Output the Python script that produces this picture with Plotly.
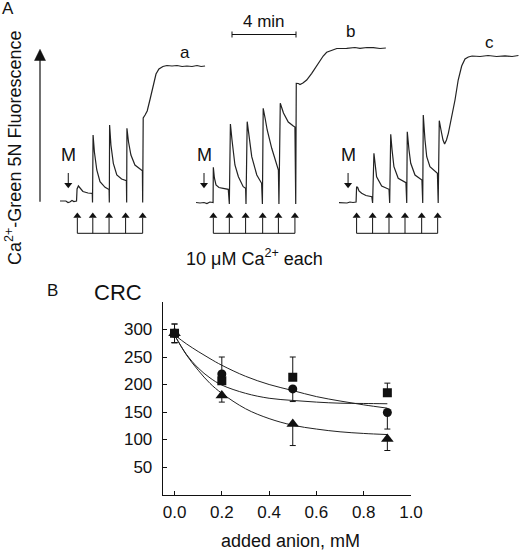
import plotly.graph_objects as go

# ---------------- Panel A: Ca2+-Green 5N fluorescence traces ----------------
# time in s (from start of each record), fluorescence in arbitrary units
trace_a_t = [0, 15, 22, 30, 37, 45, 52, 62, 64, 69, 75, 86, 105, 121,
             122, 124, 129, 138, 150, 169, 184,
             185, 186, 191, 200, 213, 231, 249,
             250, 251, 257, 266, 281, 300, 309,
             310, 312, 319, 327, 338, 349, 360, 371, 386, 401, 420, 439, 458, 476, 495, 514, 529, 544]
trace_a_f = [2, 1.5, 2, 0.5, 1, 2.5, 1.5, 2, 14, 17, 15, 11.5, 10, 9.7,
             0.5, 68, 51, 33, 21.3, 15.7, 13.5,
             0.5, 78, 58, 39.7, 28, 24, 22.3,
             0.5, 74.7, 61, 48, 38, 33.7, 32.3,
             0.5, 85, 88, 92, 104, 118, 129, 134, 136.5, 137.5, 137, 137.5, 136.5, 137, 136.5, 137.5, 136.5, 137]

trace_b_t = [0, 15, 30, 41, 52, 64,
             65, 69, 75, 86, 102, 121,
             125, 129, 135, 146, 159, 177, 186,
             187.5, 192, 199, 209, 228, 246,
             249, 252, 259, 267, 284, 303, 309,
             311, 316, 328, 346, 365, 371,
             374, 376, 384, 390, 401, 415, 434, 453, 465, 477, 490, 509, 528, 565, 596, 615, 641, 665, 690, 712]
trace_b_f = [0.5, 0, 0.5, -0.5, 1, 0.5,
             35.7, 25, 18, 15.5, 14.7, 13.7,
             -1, 79, 63, 38, 26.3, 16.3, 14.7,
             -1, 81.3, 68, 46.3, 28, 19.7,
             -1, 94.7, 85, 73, 54.7, 36.3, 33,
             -1, 99.7, 90, 81, 77, 76,
             -1, 119.7, 119.5, 118.5, 120, 123, 129.7, 137.5, 141.5, 147, 150.7, 153, 154.5, 154.7, 155.5, 154.7, 155.5, 155.3, 154.5, 155]

trace_c_t = [0, 15, 30, 41, 52.5, 64,
             66, 70, 75, 85, 101, 123,
             126, 131, 137, 141, 160, 179, 187.5,
             190, 194, 199, 206, 222, 241, 251,
             254, 256, 262.5, 269, 285, 304, 311,
             314, 316, 322.5, 329, 341, 360, 369,
             372, 376, 382.5, 390, 396, 403, 410, 423, 435, 447, 460, 472.5, 485, 499, 529, 559, 591, 622.5, 649, 673]
trace_c_f = [0.3, 0.5, 0, 1, 0.5, 1,
             16.3, 15.5, 12, 9.7, 7.5, 6.3,
             0, 49.7, 38, 26.3, 17, 14.7, 13.7,
             0, 68.7, 53, 36.3, 24.7, 21.3, 20.3,
             0, 71.3, 53, 39.7, 28, 23.7, 23,
             0, 88, 63, 46.3, 36.3, 31.3, 29.7,
             0, 82.3, 73, 63, 59, 63, 69.7, 86.3, 103, 123, 137, 144, 146, 147, 146.5, 147.5, 146.5, 147.2, 146.5, 147.5]

# addition times (s): mitochondria (M) and 10 uM Ca2+ pulses
m_add = {"a": 31, "b": 30, "c": 34}
ca_add = {"a": [65, 123, 184, 246, 310],
          "b": [65, 125, 186, 250, 309, 371],
          "c": [66, 126, 187.5, 247.5, 310, 370]}
trace_labels = ["a", "b", "c"]

# ---------------- Panel B: CRC vs added anion ----------------
anion_mM = [0, 0.2, 0.5, 0.9]
crc_square = [293, 207, 213, 185]
crc_square_up = [17, 0, 37, 17.5]
crc_square_dn = [17, 0, 0, 0]
crc_circle = [293, 219, 192, 149]
crc_circle_up = [17, 31, 0, 0]
crc_circle_dn = [17, 0, 23, 30]
crc_triangle = [293, 180, 128, 101]
crc_triangle_up = [0, 0, 0, 0]
crc_triangle_dn = [17, 12, 39, 21]

fit_x = [0, 0.05, 0.1, 0.15, 0.2, 0.3, 0.4, 0.5, 0.6, 0.7, 0.8, 0.9]
fit_circle = [290, 274, 260, 247, 235, 215, 200, 189, 178, 170, 163, 157]
fit_square = [290, 255, 230, 212, 199, 184, 175, 171, 168, 166, 165.5, 165]
fit_triangle = [290, 254, 226, 202, 184, 156, 138, 126, 119, 114, 111, 109]

x_ticks = [0.0, 0.2, 0.4, 0.6, 0.8, 1.0]
y_ticks = [50, 100, 150, 200, 250, 300]

FONT = "Liberation Sans, Arial, sans-serif"
INK = "#111111"
W, H = 520, 551

fig = go.Figure()

# panel A traces, one time axis per record
axmap = {"a": "x2", "b": "x3", "c": "x4"}
for key, t, f in [("a", trace_a_t, trace_a_f), ("b", trace_b_t, trace_b_f), ("c", trace_c_t, trace_c_f)]:
    fig.add_trace(go.Scatter(x=t, y=f, mode="lines", xaxis=axmap[key], yaxis="y2",
                             line=dict(color="#222222", width=1.2), showlegend=False, hoverinfo="skip"))


def txt(text, x, y, size, xref="paper", yref="paper", **kw):
    d = dict(text=text, x=x, y=y, xref=xref, yref=yref, showarrow=False,
             xanchor="center", yanchor="middle", font=dict(size=size, color=INK, family=FONT))
    d.update(kw)
    return d


shapes = []
annotations = []
y_ca_tip, y_bracket = -9.7, -30.3
y_m_top, y_m_tip = 30, 14.7
for key in trace_labels:
    xr = axmap[key]
    adds = ca_add[key]
    # Ca2+ addition arrowheads
    fig.add_trace(go.Scatter(x=adds, y=[y_ca_tip - 3.3] * len(adds), mode="markers", xaxis=xr, yaxis="y2",
                             marker=dict(symbol="triangle-up", size=7, color=INK), showlegend=False, hoverinfo="skip"))
    for ta in adds:
        shapes.append(dict(type="line", xref=xr, yref="y2", x0=ta, x1=ta, y0=y_ca_tip - 5, y1=y_bracket,
                           line=dict(color=INK, width=1)))
    shapes.append(dict(type="line", xref=xr, yref="y2", x0=adds[0], x1=adds[-1], y0=y_bracket, y1=y_bracket,
                       line=dict(color=INK, width=1)))
    # M arrow
    tm = m_add[key]
    fig.add_trace(go.Scatter(x=[tm], y=[y_m_tip + 3.5], mode="markers", xaxis=xr, yaxis="y2",
                             marker=dict(symbol="triangle-down", size=7, color=INK), showlegend=False, hoverinfo="skip"))
    shapes.append(dict(type="line", xref=xr, yref="y2", x0=tm, x1=tm, y0=y_m_top, y1=y_m_tip + 5,
                       line=dict(color=INK, width=1)))
    annotations.append(txt("M", tm, 48, 18, xref=xr, yref="y2"))

# record labels
annotations.append(txt("a", 469, 151, 17, xref="x2", yref="y2"))
annotations.append(txt("b", 580, 172, 17, xref="x3", yref="y2"))
annotations.append(txt("c", 564, 161, 17, xref="x4", yref="y2"))

# 4 min scale bar (240 s) on record b time axis
sb0, sb1, sby = 135, 375, 168.5
shapes.append(dict(type="line", xref="x3", yref="y2", x0=sb0, x1=sb1, y0=sby, y1=sby, line=dict(color=INK, width=1)))
for xs in (sb0, sb1):
    shapes.append(dict(type="line", xref="x3", yref="y2", x0=xs, x1=xs, y0=sby - 3, y1=sby + 3, line=dict(color=INK, width=1)))
annotations.append(txt("4 min", (sb0 + sb1) / 2, 182, 17, xref="x3", yref="y2"))


# fluorescence arrow (paper coordinates)
def px(x):
    return x / W


def py(y):
    return 1 - y / H


shapes.append(dict(type="line", xref="paper", yref="paper", x0=px(40), x1=px(40), y0=py(201.7), y1=py(58),
                   line=dict(color=INK, width=1.2)))
shapes.append(dict(type="path", xref="paper", yref="paper",
                   path=f"M {px(40)} {py(49.3)} L {px(34.5)} {py(60.5)} L {px(45.5)} {py(60.5)} Z",
                   fillcolor=INK, line=dict(color=INK, width=0.5)))
annotations.append(txt("Ca<sup>2+</sup>-Green 5N Fluorescence", px(13), py(148), 18, textangle=-90))
annotations.append(txt("10 μM Ca<sup>2+</sup> each", px(254.5), py(257), 18))
annotations.append(txt("A", px(7.5), py(9), 17))
annotations.append(txt("B", px(52.5), py(290), 17))
annotations.append(txt("CRC", px(118), py(292.5), 22))
annotations.append(txt("added anion, mM", px(290), py(541), 18))

# panel B: fits and data
for fy in (fit_circle, fit_square, fit_triangle):
    fig.add_trace(go.Scatter(x=fit_x, y=fy, mode="lines", line=dict(color="#222222", width=1, shape="spline"),
                             showlegend=False, hoverinfo="skip"))
for yv, up, dn, sym, sz in [(crc_triangle, crc_triangle_up, crc_triangle_dn, "triangle-up", 11),
                            (crc_circle, crc_circle_up, crc_circle_dn, "circle", 9),
                            (crc_square, crc_square_up, crc_square_dn, "square", 9)]:
    fig.add_trace(go.Scatter(x=anion_mM, y=yv, mode="markers",
                             marker=dict(symbol=sym, size=sz, color=INK),
                             error_y=dict(type="data", symmetric=False, array=up, arrayminus=dn,
                                          color=INK, thickness=1, width=3),
                             showlegend=False, hoverinfo="skip"))

fig.update_layout(
    width=W, height=H,
    margin=dict(l=0, r=0, t=0, b=0, autoexpand=False),
    paper_bgcolor="white", plot_bgcolor="rgba(0,0,0,0)",
    font=dict(family=FONT, color=INK, size=17),
    xaxis=dict(domain=[px(162.7), px(411)], range=[-0.05, 1.0], tickvals=x_ticks, tickformat=".1f",
               showline=True, linecolor=INK, linewidth=1, ticks="inside", ticklen=4, tickcolor=INK,
               showgrid=False, zeroline=False, ticklabelstandoff=2, tickfont=dict(size=17), automargin=False),
    yaxis=dict(domain=[py(494.5), py(302)], range=[0, 350], tickvals=y_ticks,
               showline=True, linecolor=INK, linewidth=1, ticks="inside", ticklen=4, tickcolor=INK,
               showgrid=False, zeroline=False, ticklabelstandoff=6, tickfont=dict(size=17), automargin=False),
    xaxis2=dict(domain=[px(60), px(220)], range=[0, 600], visible=False, anchor="y2"),
    xaxis3=dict(domain=[px(196), px(388)], range=[0, 720], visible=False, anchor="y2"),
    xaxis4=dict(domain=[px(339), px(519)], range=[0, 675], visible=False, anchor="y2"),
    yaxis2=dict(domain=[0.5, 1.0], range=[203 - 275.5, 203], visible=False, anchor="x2"),
    shapes=shapes, annotations=annotations,
)

fig.write_html("out.html", config={"displayModeBar": False},
               post_script="document.body.style.margin='0';")
